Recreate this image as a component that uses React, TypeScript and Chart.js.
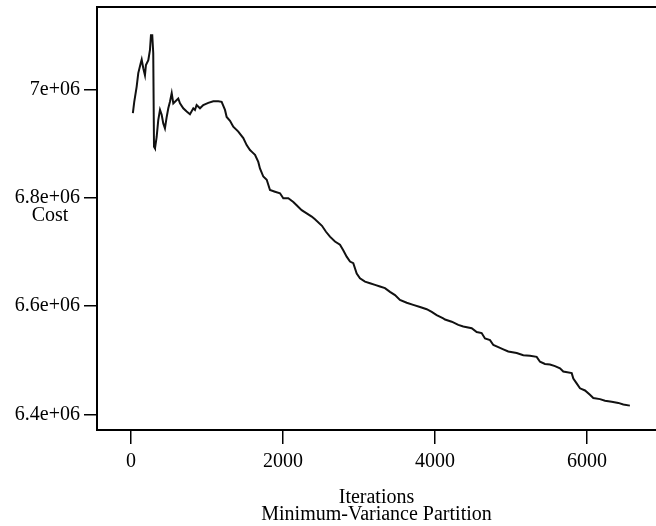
import React, { useEffect, useRef } from 'react';
import { Chart, registerables } from 'chart.js';
Chart.register(...registerables);

const iterations = [
  25, 43, 75, 96, 128, 141, 162, 184, 197, 228, 250, 263, 280, 293, 303, 316, 338, 359, 382, 404,
  425, 447, 470, 491, 513, 536, 557, 579, 622, 645, 688, 733, 776, 820, 842, 864, 908, 951, 1017, 1083,
  1149, 1193, 1237, 1259, 1303, 1346, 1412, 1478, 1522, 1566, 1588, 1632, 1675, 1697, 1741, 1786, 1829, 1895, 1961, 2004,
  2070, 2136, 2180, 2246, 2312, 2378, 2421, 2513, 2566, 2618, 2684, 2750, 2793, 2838, 2882, 2925, 2970, 3013, 3079, 3145,
  3211, 3276, 3342, 3408, 3474, 3539, 3628, 3714, 3803, 3891, 3957, 4022, 4109, 4132, 4220, 4307, 4372, 4483, 4549, 4614,
  4658, 4724, 4768, 4833, 4899, 4964, 5075, 5162, 5250, 5338, 5382, 5447, 5513, 5579, 5645, 5688, 5799, 5820, 5864, 5908,
  5974, 6039, 6083, 6171, 6237, 6325, 6412, 6478, 6564,
];

const cost = [
  6956000, 6977000, 7005000, 7030000, 7048000, 7055000, 7039000, 7026000, 7045000, 7054000, 7073000, 7100000, 7100000, 7067000, 6894000, 6891000, 6912000, 6943000, 6962000, 6953000,
  6937000, 6928000, 6949000, 6965000, 6977000, 6993000, 6974000, 6977000, 6983000, 6974000, 6965000, 6959000, 6954000, 6965000, 6962000, 6971000, 6965000, 6971000, 6975000, 6978000,
  6978000, 6977000, 6962000, 6949000, 6942000, 6931000, 6922000, 6910000, 6897000, 6888000, 6885000, 6879000, 6866000, 6854000, 6839000, 6833000, 6814000, 6811000, 6808000, 6799000,
  6799000, 6792000, 6786000, 6777000, 6771000, 6765000, 6760000, 6748000, 6737000, 6728000, 6719000, 6713000, 6703000, 6691000, 6682000, 6679000, 6660000, 6651000, 6645000, 6642000,
  6639000, 6636000, 6633000, 6626000, 6620000, 6611000, 6606000, 6602000, 6598000, 6594000, 6589000, 6583000, 6577000, 6575000, 6571000, 6565000, 6562000, 6559000, 6552000, 6550000,
  6540000, 6537000, 6528000, 6524000, 6520000, 6516000, 6513000, 6509000, 6508000, 6506000, 6497000, 6493000, 6492000, 6489000, 6485000, 6479000, 6476000, 6466000, 6457000, 6448000,
  6444000, 6436000, 6430000, 6428000, 6425000, 6423000, 6421000, 6418000, 6416000,
];

const xTicks = [0, 2000, 4000, 6000];
const xTickLabels = ['0', '2000', '4000', '6000'];
const yTicks = [6.4e6, 6.6e6, 6.8e6, 7e6];
const yTickLabels = ['6.4e+06', '6.6e+06', '6.8e+06', '7e+06'];
const xTitle = ['Iterations', 'Minimum-Variance Partition'];
const yTitle = 'Cost';

const FONT = '"Liberation Serif", "Times New Roman", serif';

export default function App() {
  const ref = useRef<HTMLCanvasElement>(null);
  useEffect(() => {
    if (!ref.current) return;
    const framePlugin = {
      id: 'frame',
      afterDraw(chart: any) {
        const { ctx, chartArea: a } = chart;
        ctx.save();
        ctx.strokeStyle = '#000';
        ctx.lineWidth = 2;
        ctx.beginPath();
        ctx.moveTo(a.right + 4, a.top);
        ctx.lineTo(a.left, a.top);
        ctx.lineTo(a.left, a.bottom);
        ctx.lineTo(a.right + 4, a.bottom);
        ctx.stroke();
        ctx.font = '20px ' + FONT;
        ctx.fillStyle = '#000';
        ctx.textAlign = 'center';
        ctx.textBaseline = 'middle';
        ctx.fillText(yTitle, 50, (a.top + a.bottom) / 2 - 3);
        ctx.restore();
      },
    };
    const chart = new Chart(ref.current, {
      type: 'line',
      data: {
        datasets: [
          {
            data: iterations.map((x, i) => ({ x, y: cost[i] })),
            borderColor: '#111',
            borderWidth: 2,
            pointRadius: 0,
            tension: 0,
            fill: false,
          },
        ],
      },
      options: {
        animation: false,
        responsive: false,
        layout: { padding: { top: 7, right: 0, left: 0, bottom: 0 } },
        plugins: { legend: { display: false }, tooltip: { enabled: false } },
        scales: {
          x: {
            type: 'linear',
            min: -447,
            max: 6908,
            afterFit: (s: any) => { s.height = 96; s.paddingLeft = 0; s.paddingRight = 0; },
            afterBuildTicks: (s: any) => { s.ticks = xTicks.map((v) => ({ value: v })); },
            grid: { drawOnChartArea: false, drawTicks: true, tickLength: 14, color: '#000', lineWidth: 1.5 },
            border: { display: false },
            ticks: {
              color: '#000',
              font: { family: FONT, size: 20 },
              padding: 6,
              maxRotation: 0,
              autoSkip: false,
              callback: (v: any) => xTickLabels[xTicks.indexOf(Number(v))] ?? '',
            },
            title: {
              display: true,
              text: xTitle,
              color: '#000',
              font: { family: FONT, size: 20, lineHeight: '17px' },
              padding: { top: 0, bottom: 3 },
            },
          },
          y: {
            type: 'linear',
            min: 6371000,
            max: 7152000,
            afterFit: (s: any) => { s.width = 97; s.paddingTop = 0; s.paddingBottom = 0; },
            afterBuildTicks: (s: any) => { s.ticks = yTicks.map((v) => ({ value: v })); },
            grid: { drawOnChartArea: false, drawTicks: true, tickLength: 13, color: '#000', lineWidth: 1.5 },
            border: { display: false },
            ticks: {
              color: '#000',
              font: { family: FONT, size: 20 },
              padding: 4,
              autoSkip: false,
              callback: (v: any) => yTickLabels[yTicks.indexOf(Number(v))] ?? '',
            },
          },
        },
      },
      plugins: [framePlugin],
    } as any);
    return () => chart.destroy();
  }, []);
  return (
    <div style={{ position: 'absolute', left: 0, top: 0, width: 656, height: 526 }}>
      <canvas ref={ref} width={656} height={526} />
    </div>
  );
}
